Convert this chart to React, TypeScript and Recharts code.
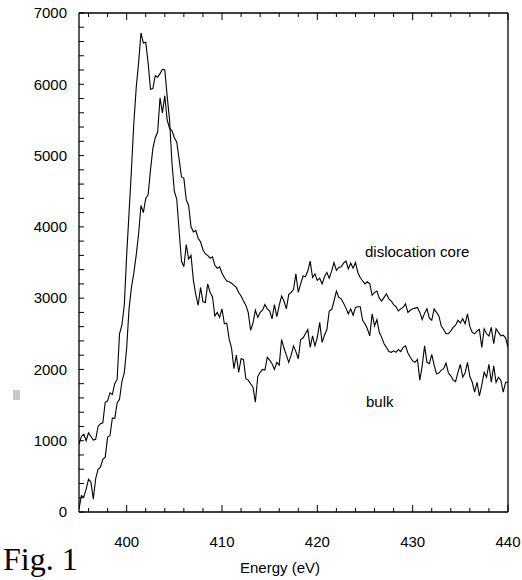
import { LineChart, Line, XAxis, YAxis } from 'recharts';

// EELS spectra, N K-edge: bulk vs dislocation core.
// Sampled every 0.25 eV from 395 to 440 eV.
const E_START = 395;
const E_STEP = 0.25;

const BULK = [
  950, 1060, 1090, 1000, 1110, 1060, 1010, 1020, 1200, 1240,
  1250, 1540, 1560, 1670, 1650, 1800, 1860, 2500, 2620, 2900,
  3600, 4200, 4800, 5450, 5950, 6300, 6720, 6580, 6590, 6300,
  5930, 5940, 6120, 6100, 6150, 6210, 6200, 5830, 5500, 4900,
  4500, 4390, 3950, 3520, 3440, 3750, 3550, 3600, 3250, 3050,
  2900, 3150, 2950, 2940, 3200, 3080, 3020, 2750, 2800, 2730,
  2850, 2640, 2650, 2430, 2300, 2010, 2200, 1960, 2150, 2140,
  1870, 1850, 1800, 1750, 1540, 1900, 1960, 2000, 1990, 2170,
  2130, 2080, 2000, 2100, 2060, 2420, 2300, 2200, 2100, 2200,
  2330, 2250, 2150, 2420, 2440, 2500, 2560, 2310, 2470, 2330,
  2450, 2660, 2380, 2480, 2560, 2820, 2840, 2960, 3100, 3010,
  2990, 2930, 2860, 2780, 2850, 2760, 2870, 2880, 2880, 2690,
  2640, 2570, 2470, 2780, 2610, 2700, 2520, 2450, 2360, 2310,
  2250, 2240, 2260, 2240, 2280, 2250, 2310, 2330, 2230, 2170,
  2120, 2100, 2140, 1850, 2050, 2330, 2100, 2080, 2210, 2060,
  1940, 1950, 1990, 2010, 2090, 1950, 1910, 1850, 1830, 1960,
  2070, 1890, 1950, 2100, 1900, 1820, 1680, 1820, 1630, 1780,
  1960, 1890, 2070, 1820, 2050, 1820, 1890, 1850, 1680, 1820,
  1820,
];

const CORE = [
  40, 230, 210, 320, 460, 420, 180, 470, 600, 630,
  740, 770, 1050, 1070, 1320, 1310, 1530, 1580, 1830, 1950,
  2300, 2850, 3150, 3350, 3600, 3900, 4300, 4200, 4400, 4450,
  4800, 5100, 5250, 5330, 5810, 5600, 5840, 5500, 5380, 5350,
  5250, 5190, 4950, 4700, 4680, 4380, 4300, 4000, 3930, 3950,
  3840, 3790, 3680, 3620, 3600, 3560, 3580, 3460, 3420, 3440,
  3350, 3290, 3240, 3230, 3210, 3180, 3150, 3080, 3030, 2960,
  2900, 2800, 2550, 2650, 2830, 2730, 2800, 2830, 2910, 2850,
  2820, 2710, 2910, 2740, 2900, 3030, 2960, 2850, 3050, 3080,
  3120, 3340, 3080, 3200, 3310, 3300, 3380, 3520, 3290, 3340,
  3250, 3280, 3200, 3300, 3360, 3280, 3380, 3500, 3390, 3430,
  3440, 3490, 3520, 3410, 3490, 3420, 3500, 3360, 3290, 3240,
  3200, 3230, 3200, 3040, 3080, 3100, 3000, 2960, 3010, 3060,
  2990, 2960, 2910, 2880, 2820, 2850, 2870, 2920, 2800, 2830,
  2850, 2860, 2870, 2800, 2700, 2790, 2850, 2720, 2690, 2850,
  2800, 2750, 2610, 2560, 2500, 2500, 2540, 2590, 2620, 2690,
  2650, 2710, 2640, 2780, 2600, 2520, 2500, 2540, 2560, 2310,
  2570, 2500, 2470, 2590, 2360, 2570, 2520, 2470, 2480, 2440,
  2310,
];

const X_MAJOR = [400, 410, 420, 430, 440];
const Y_MAJOR = [0, 1000, 2000, 3000, 4000, 5000, 6000, 7000];

const X_TICKS: number[] = [];
for (let v = 396; v <= 440; v += 2) X_TICKS.push(v);
const Y_TICKS: number[] = [];
for (let v = 0; v <= 7000; v += 200) Y_TICKS.push(v);

const rows = BULK.map((b, i) => ({ e: E_START + i * E_STEP, bulk: b, core: CORE[i] }));

const FONT = '"Liberation Sans", Arial, Helvetica, sans-serif';
const SERIF = '"Liberation Serif", "Times New Roman", serif';
const INK = '#000';

// x ticks point into the plot; labels only on bottom majors
function XTick({ x, y, payload, side }: any) {
  const major = X_MAJOR.includes(payload.value);
  const len = major ? 7 : 4;
  const dir = side === 'bottom' ? -1 : 1;
  return (
    <g>
      <line x1={x} y1={y} x2={x} y2={y + dir * len} stroke={INK} strokeWidth={1} />
      {side === 'bottom' && major && (
        <text x={x} y={y + 35} textAnchor="middle" fontSize={15} fontFamily={FONT} fill={INK}>
          {payload.value}
        </text>
      )}
    </g>
  );
}

const yLabel = (v: number) => (Y_MAJOR.includes(v) ? String(v) : '');

const note = (left: number, top: number, size: number, family: string): any => ({
  position: 'absolute',
  left,
  top,
  fontSize: size,
  lineHeight: `${size}px`,
  fontFamily: family,
  color: INK,
  whiteSpace: 'nowrap',
});

export default function App() {
  return (
    <div style={{ position: 'absolute', left: 0, top: 0 }}>
      <LineChart width={522} height={580} data={rows} margin={{ top: 12, right: 13, bottom: 38, left: 0 }}>
        <XAxis
          xAxisId="b"
          dataKey="e"
          type="number"
          domain={[395, 440]}
          allowDataOverflow
          ticks={X_TICKS}
          interval={0}
          height={30}
          tickSize={0}
          tickMargin={0}
          tickLine={false}
          axisLine={{ stroke: INK, strokeWidth: 1.3 }}
          tick={<XTick side="bottom" />}
        />
        <XAxis
          xAxisId="t"
          orientation="top"
          dataKey="e"
          type="number"
          domain={[395, 440]}
          allowDataOverflow
          ticks={X_TICKS}
          interval={0}
          height={1}
          tickSize={0}
          tickMargin={0}
          tickLine={false}
          axisLine={{ stroke: INK, strokeWidth: 1.3 }}
          tick={<XTick side="top" />}
        />
        {/* negative tickSize turns the y ticks inward */}
        <YAxis
          yAxisId="l"
          type="number"
          domain={[0, 7000]}
          ticks={Y_TICKS}
          interval={0}
          width={79}
          tickSize={-5}
          tickMargin={17}
          tickFormatter={yLabel}
          tickLine={{ stroke: INK, strokeWidth: 1 }}
          tick={{ fontSize: 15, fill: INK, fontFamily: FONT }}
          axisLine={{ stroke: INK, strokeWidth: 1.3 }}
        />
        <YAxis
          yAxisId="r"
          orientation="right"
          type="number"
          domain={[0, 7000]}
          ticks={Y_TICKS}
          interval={0}
          width={1}
          tickSize={-5}
          tickMargin={0}
          tickLine={{ stroke: INK, strokeWidth: 1 }}
          tick={false}
          axisLine={{ stroke: INK, strokeWidth: 1.3 }}
        />
        {/* core sits on the top/right pair (same domains) so those frame axes get drawn */}
        <Line
          xAxisId="t"
          yAxisId="r"
          type="linear"
          dataKey="core"
          stroke={INK}
          strokeWidth={1.1}
          dot={false}
          isAnimationActive={false}
        />
        <Line
          xAxisId="b"
          yAxisId="l"
          type="linear"
          dataKey="bulk"
          stroke={INK}
          strokeWidth={1.1}
          dot={false}
          isAnimationActive={false}
        />
      </LineChart>
      <div style={note(365, 244, 15, FONT)}>dislocation core</div>
      <div style={note(366, 394, 15, FONT)}>bulk</div>
      <div style={note(240, 560, 15, FONT)}>Energy (eV)</div>
      <div style={note(3, 543, 32, SERIF)}>Fig. 1</div>
      <div style={{ position: 'absolute', left: 13, top: 390, width: 7, height: 10, background: '#c8c8c8' }} />
    </div>
  );
}
